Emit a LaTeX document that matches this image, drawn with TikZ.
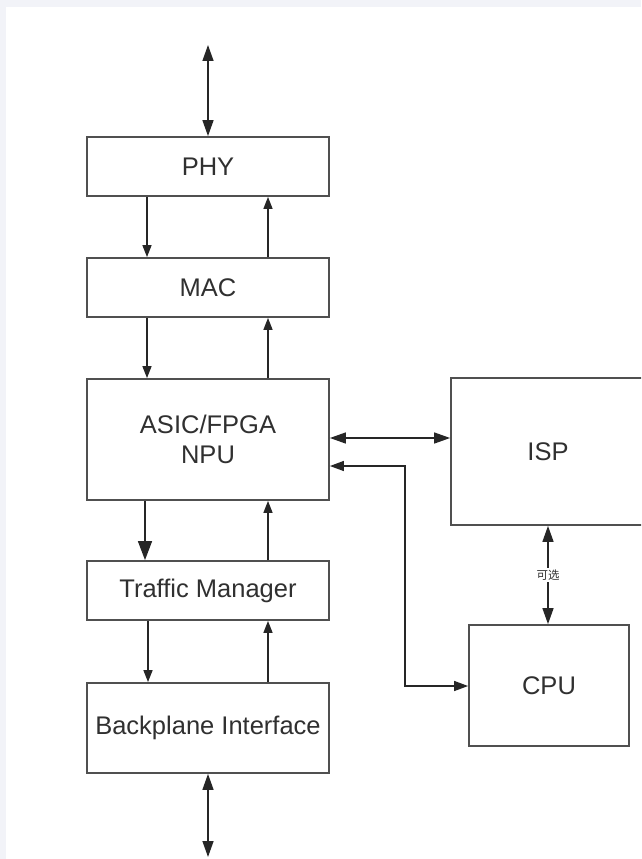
\documentclass[tikz,border=0pt]{standalone}
\usepackage{fontspec}
\setmainfont{Liberation Sans}
\newfontfamily\cjk{Noto Sans CJK SC}
\usetikzlibrary{arrows.meta}
\definecolor{edge}{HTML}{505050}
\definecolor{txt}{HTML}{303030}
\definecolor{bgtint}{HTML}{F2F3F8}
\begin{document}
\begin{tikzpicture}[x=1pt,y=-1pt,
  box/.style={draw=edge,line width=1.8pt,fill=white,inner sep=0pt,text=txt,
    font=\fontsize{25.5}{30}\selectfont,align=center},
  arr/.style={draw=black!85,line width=1.4pt,-{Triangle[length=12pt,width=9pt]}},
  barr/.style={draw=black!85,line width=1.4pt,{Triangle[length=16pt,width=11pt]}-{Triangle[length=16pt,width=11pt]}},
  carr/.style={draw=black!85,line width=1.4pt,{Triangle[length=14pt,width=10pt]}-{Triangle[length=14pt,width=10pt]}},
  bigarr/.style={draw=black!85,line width=1.4pt,-{Triangle[length=19pt,width=14pt]}}]
\useasboundingbox (0,0) rectangle (641,859);
\clip (0,0) rectangle (641,859);
\fill[bgtint] (0,0) rectangle (641,859);
\fill[white] (6,7) rectangle (641,859);

\node[box,minimum width=242pt,minimum height=59pt] (phy) at (208,166.5) {PHY};
\node[box,minimum width=242pt,minimum height=59pt] (mac) at (208,287.5) {MAC};
\node[box,minimum width=242pt,minimum height=121pt] (asic) at (208,439.5) {ASIC/FPGA\\NPU};
\node[box,minimum width=242pt,minimum height=59pt] (tm) at (208,590.5) {Traffic Manager};
\node[box,minimum width=242pt,minimum height=90pt] (bp) at (208,728) {Backplane Interface};
\node[box,minimum width=194pt,minimum height=147pt] (isp) at (548,451.5) {ISP};
\node[box,minimum width=160pt,minimum height=121pt] (cpu) at (549,685.5) {CPU};

\coordinate (top) at (208,45);
\coordinate (bot) at (208,857);
\draw[barr] (top) -- (phy.north);
\draw[barr] (bp.south) -- (bot);

\draw[arr] ([xshift=-61pt]phy.south) -- ([xshift=-61pt]mac.north);
\draw[arr] ([xshift=60pt]mac.north) -- ([xshift=60pt]phy.south);
\draw[arr] ([xshift=-61pt]mac.south) -- ([xshift=-61pt]asic.north);
\draw[arr] ([xshift=60pt]asic.north) -- ([xshift=60pt]mac.south);
\draw[bigarr] ([xshift=-63pt]asic.south) -- ([xshift=-63pt]tm.north);
\draw[arr] ([xshift=60pt]tm.north) -- ([xshift=60pt]asic.south);
\draw[arr] ([xshift=-60pt]tm.south) -- ([xshift=-60pt]bp.north);
\draw[arr] ([xshift=60pt]bp.north) -- ([xshift=60pt]tm.south);

\coordinate (ispw) at (isp.west |- 0,438);
\draw[barr] (asic.east |- ispw) -- (ispw);

\coordinate (elbowA) at (405,466);
\coordinate (elbowB) at (405,686);
\draw[carr] (asic.east |- elbowA) -- (elbowA) -- (elbowB) -- (cpu.west |- elbowB);

\draw[barr] (isp.south -| 548,0) -- (cpu.north -| 548,0)
  node[midway,fill=white,inner sep=2pt,text=txt,font=\cjk\fontsize{11.5}{13}\selectfont] (opt) {可选};
\end{tikzpicture}
\end{document}
